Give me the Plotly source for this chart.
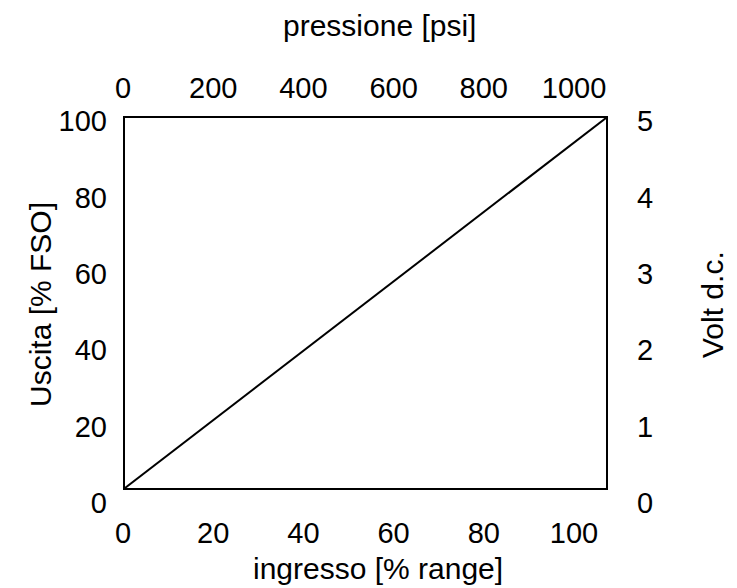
import plotly.graph_objects as go

# ---- data ----
ingresso = [0, 100]            # % range (input)
uscita = [0, 100]              # % FSO (output)
x_ticks = [0, 20, 40, 60, 80, 100]
psi_ticks = [0, 200, 400, 600, 800, 1000]
y_ticks = [0, 20, 40, 60, 80, 100]
volt_ticks = [0, 1, 2, 3, 4, 5]

W, H = 737, 588
L, R, T, B = 110, 131, 118, 85
pw = W - L - R
ph = H - T - B

def fx(px):
    return (px - L) / pw

def fy(py):
    return (H - B - py) / ph

FONT = "Liberation Sans, Arial, sans-serif"
TICK = 29
TITLE = 30

box_x = [fx(125), 1.0]
box_y = [fy(488), 1.0]
lab_x = [fx(123), fx(574)]
lab_y = [0.0, fy(121)]

fig = go.Figure()
fig.add_trace(go.Scatter(x=ingresso, y=uscita, mode="lines",
                         line=dict(color="black", width=2),
                         xaxis="x", yaxis="y", showlegend=False, hoverinfo="skip"))
fig.add_trace(go.Scatter(x=[], y=[], xaxis="x2", yaxis="y2", showlegend=False))
fig.add_trace(go.Scatter(x=[], y=[], xaxis="x3", yaxis="y3", showlegend=False))

base = dict(showgrid=False, zeroline=False, ticks="")
fig.update_layout(
    width=W, height=H,
    margin=dict(l=L, r=R, t=T, b=B, pad=0),
    paper_bgcolor="white", plot_bgcolor="rgba(0,0,0,0)",
    font=dict(family=FONT, size=TICK, color="black"),
    showlegend=False,
    xaxis=dict(domain=box_x, range=[0, 100], anchor="y", showline=True, mirror=True,
               linecolor="black", linewidth=2, showticklabels=False, **base),
    yaxis=dict(domain=box_y, range=[0, 100], anchor="x", showline=True, mirror=True,
               linecolor="black", linewidth=2, showticklabels=False, **base),
    xaxis2=dict(domain=lab_x, range=[0, 100], anchor="y2", side="bottom",
                tickvals=x_ticks, showline=False, ticklabelstandoff=10, **base),
    yaxis2=dict(domain=lab_y, range=[0, 100], anchor="free", position=fx(125), side="left",
                tickvals=y_ticks, showline=False, ticklabelstandoff=18, **base),
    xaxis3=dict(domain=lab_x, range=[0, 1000], anchor="free", position=1.0, side="top",
                tickvals=psi_ticks, showline=False, ticklabelstandoff=14, **base),
    yaxis3=dict(domain=lab_y, range=[0, 5], anchor="free", position=1.0, side="right",
                tickvals=volt_ticks, showline=False, ticklabelstandoff=30, **base),
    annotations=[
        dict(text="pressione [psi]", x=fx(379), y=fy(25), xref="paper", yref="paper",
             showarrow=False, xanchor="center", yanchor="middle", font=dict(size=TITLE)),
        dict(text="ingresso [% range]", x=fx(378), y=fy(568), xref="paper", yref="paper",
             showarrow=False, xanchor="center", yanchor="middle", font=dict(size=TITLE)),
        dict(text="Uscita [% FSO]", x=fx(40), y=fy(305), xref="paper", yref="paper",
             showarrow=False, xanchor="center", yanchor="middle", textangle=-90,
             font=dict(size=TITLE)),
        dict(text="Volt d.c.", x=fx(712), y=fy(305), xref="paper", yref="paper",
             showarrow=False, xanchor="center", yanchor="middle", textangle=-90,
             font=dict(size=TITLE)),
    ],
)

fig.write_html("out.html", config={"displayModeBar": False},
               post_script="document.body.style.margin='0px';")
